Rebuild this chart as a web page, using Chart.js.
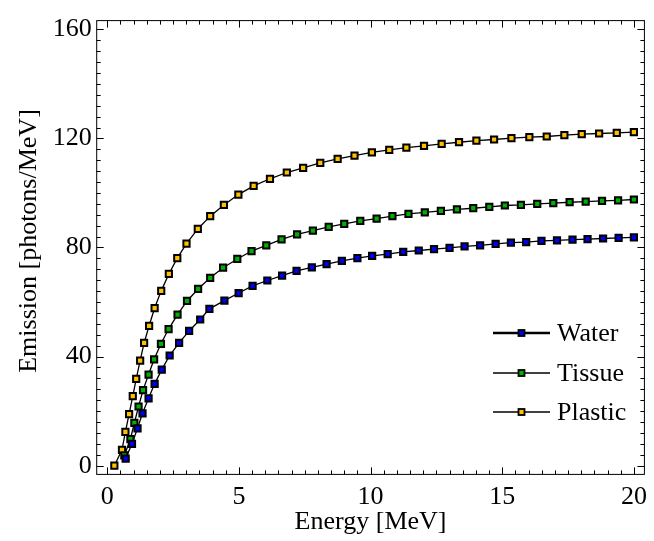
<!DOCTYPE html>
<html>
<head>
<meta charset="utf-8">
<script src="https://cdn.jsdelivr.net/npm/chart.js@4/dist/chart.umd.min.js"></script>
<style>
    html, body { margin: 0; padding: 0; background: #ffffff; }
    #wrap { position: relative; width: 654px; height: 541px; }
</style>
</head>
<body>
<div id="wrap"><canvas id="emissionChart"></canvas></div>
<script>
// Photon emission vs. energy for three media

const energyTicks = [0, 5, 10, 15, 20];
const emissionTicks = [0, 40, 80, 120, 160];

const waterEnergy = [0.70, 0.94, 1.15, 1.34, 1.57, 1.80, 2.07, 2.37, 2.73, 3.11, 3.53, 3.88,
    4.45, 4.99, 5.52, 6.08, 6.64, 7.19, 7.77, 8.33, 8.91, 9.50, 10.06, 10.65,
    11.24, 11.83, 12.41, 13.00, 13.57, 14.16, 14.75, 15.33, 15.91, 16.49, 17.08, 17.67, 18.24, 18.83, 19.42, 20.0];
const waterEmission = [2.6, 8.0, 13.7, 19.2, 24.7, 30.0, 35.2, 40.4, 45.0, 49.4, 53.6, 57.5,
    60.5, 63.3, 65.9, 67.9, 69.7, 71.4, 72.7, 73.9, 75.1, 76.1, 76.9, 77.6,
    78.4, 78.9, 79.4, 79.9, 80.4, 80.8, 81.3, 81.8, 82.0, 82.4, 82.6, 82.9, 83.1, 83.3, 83.5, 83.7];

const tissueEnergy = [0.65, 0.88, 1.03, 1.19, 1.36, 1.57, 1.78, 2.04, 2.33, 2.67, 3.03, 3.45,
    3.91, 4.40, 4.94, 5.48, 6.04, 6.62, 7.21, 7.81, 8.41, 9.00, 9.61, 10.23, 10.83,
    11.44, 12.06, 12.67, 13.28, 13.90, 14.51, 15.10, 15.71, 16.33, 16.94, 17.56, 18.17, 18.79, 19.40, 20.0];
const tissueEmission = [3.8, 9.7, 15.7, 21.7, 27.7, 33.4, 39.0, 44.7, 50.1, 55.4, 60.4, 64.8,
    68.9, 72.6, 75.8, 78.7, 80.8, 83.0, 84.8, 86.2, 87.6, 88.7, 89.8, 90.6, 91.5,
    92.3, 92.9, 93.4, 94.0, 94.4, 94.9, 95.4, 95.6, 96.0, 96.3, 96.6, 96.8, 97.1, 97.3, 97.6];

const plasticEnergy = [0.27, 0.56, 0.69, 0.83, 0.97, 1.10, 1.25, 1.40, 1.59, 1.80,
    2.05, 2.34, 2.66, 3.01, 3.44, 3.91, 4.43, 4.98, 5.56, 6.18,
    6.82, 7.44, 8.09, 8.75, 9.39, 10.05, 10.71, 11.36, 12.03, 12.70,
    13.36, 14.02, 14.69, 15.35, 16.03, 16.69, 17.36, 18.02, 18.68, 19.35, 20.0];
const plasticEmission = [0, 5.8, 12.4, 18.9, 25.5, 31.8, 38.5, 45.0, 51.3, 57.8,
    64.1, 70.3, 76.1, 81.4, 86.8, 91.5, 95.6, 99.4, 102.6, 105.2,
    107.5, 109.2, 111.0, 112.5, 113.7, 114.9, 115.8, 116.6, 117.3, 118.0,
    118.6, 119.2, 119.6, 120.1, 120.5, 120.7, 121.2, 121.6, 121.8, 122.0, 122.3];

const SERIF = "'Liberation Serif', 'Times New Roman', serif";

const series = [
    { label: 'Water', energy: waterEnergy, emission: waterEmission, color: '#0000f0', legendWidth: 2.6 },
    { label: 'Tissue', energy: tissueEnergy, emission: tissueEmission, color: '#00b000', legendWidth: 1.4 },
    { label: 'Plastic', energy: plasticEnergy, emission: plasticEmission, color: '#ffc000', legendWidth: 1.4 }
];

function toPoints(xs, ys) {
    return xs.map((x, i) => ({ x: x, y: ys[i] }));
}

// Frame with inward ticks on all four sides
const frameTicks = {
    id: 'frameTicks',
    afterDatasetsDraw(chart) {
        const { ctx, chartArea: a, scales } = chart;
        const xs = scales.x, ys = scales.y;
        ctx.save();
        ctx.strokeStyle = '#000';
        ctx.lineWidth = 1;
        ctx.strokeRect(a.left, a.top, a.right - a.left, a.bottom - a.top);
        ctx.beginPath();
        for (let v = 0; v <= 20.001; v += 0.5) {
            const px = Math.round(xs.getPixelForValue(v)) + 0.5;
            const len = Math.abs(v % 5) < 1e-6 ? 7 : 4;
            ctx.moveTo(px, a.bottom); ctx.lineTo(px, a.bottom - len);
            ctx.moveTo(px, a.top); ctx.lineTo(px, a.top + len);
        }
        for (let v = 0; v <= 160.001; v += 4) {
            const py = Math.round(ys.getPixelForValue(v)) + 0.5;
            const len = Math.abs(v % 40) < 1e-6 ? 7 : 4;
            ctx.moveTo(a.left, py); ctx.lineTo(a.left + len, py);
            ctx.moveTo(a.right, py); ctx.lineTo(a.right - len, py);
        }
        ctx.stroke();
        ctx.restore();
    }
};

// Axis titles and the line+marker legend
const annotations = {
    id: 'annotations',
    afterDraw(chart) {
        const { ctx, chartArea: a } = chart;
        ctx.save();
        ctx.fillStyle = '#000';
        ctx.font = '26px ' + SERIF;
        ctx.textAlign = 'center';
        ctx.textBaseline = 'middle';
        ctx.fillText('Energy [MeV]', (a.left + a.right) / 2, 522);
        ctx.save();
        ctx.translate(29, 241);
        ctx.rotate(-Math.PI / 2);
        ctx.fillText('Emission [photons/MeV]', 0, 0);
        ctx.restore();

        const rows = [333, 373, 412];
        series.forEach((s, i) => {
            const y = rows[i];
            ctx.strokeStyle = '#000';
            ctx.lineWidth = s.legendWidth;
            ctx.beginPath();
            ctx.moveTo(493, y); ctx.lineTo(550, y);
            ctx.stroke();
            ctx.lineWidth = 1.8;
            ctx.fillStyle = s.color;
            ctx.fillRect(518.5, y - 3, 6, 6);
            ctx.strokeRect(518.5, y - 3, 6, 6);
            ctx.fillStyle = '#000';
            ctx.textAlign = 'left';
            ctx.fillText(s.label, 557, y + 1);
        });
        ctx.restore();
    }
};

new Chart(document.getElementById('emissionChart'), {
    type: 'scatter',
    data: {
        datasets: series.map(s => ({
            label: s.label,
            data: toPoints(s.energy, s.emission),
            showLine: true,
            borderColor: '#000',
            borderWidth: 1.3,
            pointStyle: 'rect',
            pointRadius: 4.4,
            pointBorderWidth: 2,
            pointBorderColor: '#000',
            pointBackgroundColor: s.color,
            tension: 0
        }))
    },
    options: {
        responsive: true,
        maintainAspectRatio: false,
        animation: false,
        layout: { padding: { top: 10, right: 5.4, left: 0, bottom: 0 } },
        plugins: {
            legend: { display: false },
            tooltip: { enabled: false }
        },
        scales: {
            x: {
                type: 'linear',
                min: -0.4,
                max: 20.4,
                afterBuildTicks: scale => { scale.ticks = energyTicks.map(v => ({ value: v })); },
                afterFit: scale => { scale.height = 66.6; },
                grid: { display: false, drawTicks: false },
                border: { display: false },
                ticks: {
                    autoSkip: false,
                    maxRotation: 0,
                    padding: 7,
                    color: '#000',
                    font: { family: SERIF, size: 26 }
                }
            },
            y: {
                type: 'linear',
                min: -3.2,
                max: 163.2,
                afterBuildTicks: scale => { scale.ticks = emissionTicks.map(v => ({ value: v })); },
                afterFit: scale => { scale.width = 96.7; },
                grid: { display: false, drawTicks: false },
                border: { display: false },
                ticks: {
                    autoSkip: false,
                    padding: 5,
                    color: '#000',
                    font: { family: SERIF, size: 26 }
                }
            }
        }
    },
    plugins: [frameTicks, annotations]
});
</script>
</body>
</html>
